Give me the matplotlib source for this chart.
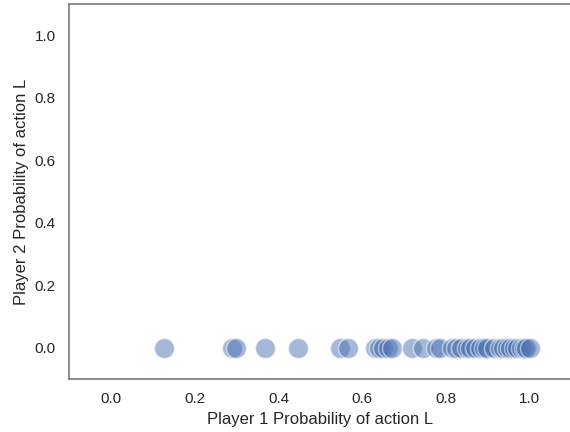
import matplotlib
matplotlib.use("Agg")
import matplotlib.pyplot as plt
import seaborn as sns
import numpy as np

# Player 1 probability of L; player 2 always 0
p1_prob = [0.127, 0.288, 0.298, 0.368, 0.447, 0.547, 0.566,
           0.630, 0.640, 0.650, 0.662, 0.672, 0.718, 0.745,
           0.775, 0.785, 0.815, 0.825, 0.835, 0.850, 0.858,
           0.868, 0.882, 0.890, 0.898, 0.915, 0.928, 0.935,
           0.945, 0.952, 0.962, 0.970, 0.978, 0.985, 0.992, 1.0]
p2_prob = [0.0] * len(p1_prob)

sns.set_theme(style="white")
plt.rcParams['font.family'] = ['Liberation Sans', 'DejaVu Sans']

fig = plt.figure(figsize=(5.7, 4.32), dpi=100)
ax = fig.add_axes([0.121, 0.123, 0.882, 0.868])

sns.scatterplot(x=p1_prob, y=p2_prob, s=210, alpha=0.5, ax=ax)

ax.set_xlim(-0.1, 1.1)
ax.set_ylim(-0.1, 1.1)
ax.set_xticks([0.0, 0.2, 0.4, 0.6, 0.8, 1.0])
ax.set_yticks([0.0, 0.2, 0.4, 0.6, 0.8, 1.0])
for sp in ax.spines.values():
    sp.set_color("#808080")
    sp.set_linewidth(1.25)
ax.set_xlabel("Player 1 Probability of action L")
ax.set_ylabel("Player 2 Probability of action L")

plt.savefig("out.png", dpi=100)
